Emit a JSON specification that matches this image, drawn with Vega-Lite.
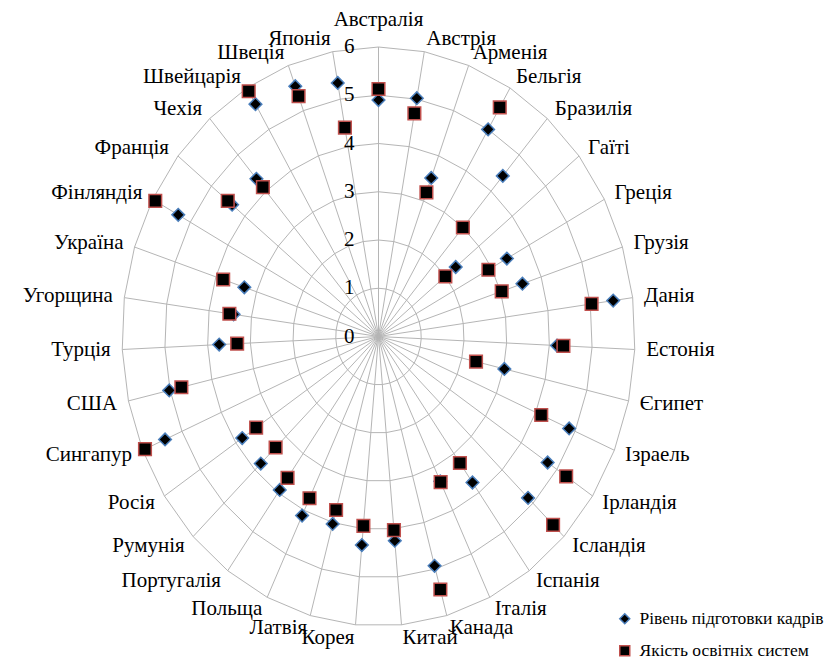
{
  "$schema": "https://vega.github.io/schema/vega-lite/v6.json",
  "width": 513,
  "height": 579,
  "autosize": {"type": "none"},
  "padding": {"left": 122, "top": 47, "right": 193, "bottom": 35},
  "background": "white",
  "config": {
    "view": {"stroke": null},
    "font": "Liberation Serif",
    "legend": {
      "labelFont": "Liberation Serif",
      "labelFontSize": 17.5,
      "labelColor": "black",
      "labelLimit": 400,
      "symbolSize": 100,
      "symbolStrokeWidth": 1.5,
      "symbolFillColor": "black",
      "rowPadding": 13,
      "padding": 0,
      "labelOffset": 6
    }
  },
  "datasets": {
    "countries": [
      {"country": "Австралія", "idx": 0},
      {"country": "Австрія", "idx": 1},
      {"country": "Арменія", "idx": 2},
      {"country": "Бельгія", "idx": 3},
      {"country": "Бразилія", "idx": 4},
      {"country": "Гаїті", "idx": 5},
      {"country": "Греція", "idx": 6},
      {"country": "Грузія", "idx": 7},
      {"country": "Данія", "idx": 8},
      {"country": "Естонія", "idx": 9},
      {"country": "Єгипет", "idx": 10},
      {"country": "Ізраель", "idx": 11},
      {"country": "Ірландія", "idx": 12},
      {"country": "Ісландія", "idx": 13},
      {"country": "Іспанія", "idx": 14},
      {"country": "Італія", "idx": 15},
      {"country": "Канада", "idx": 16},
      {"country": "Китай", "idx": 17},
      {"country": "Корея", "idx": 18},
      {"country": "Латвія", "idx": 19},
      {"country": "Польща", "idx": 20},
      {"country": "Португалія", "idx": 21},
      {"country": "Румунія", "idx": 22},
      {"country": "Росія", "idx": 23},
      {"country": "Сингапур", "idx": 24},
      {"country": "США", "idx": 25},
      {"country": "Турція", "idx": 26},
      {"country": "Угорщина", "idx": 27},
      {"country": "Україна", "idx": 28},
      {"country": "Фінляндія", "idx": 29},
      {"country": "Франція", "idx": 30},
      {"country": "Чехія", "idx": 31},
      {"country": "Швейцарія", "idx": 32},
      {"country": "Швеція", "idx": 33},
      {"country": "Японія", "idx": 34}
    ],
    "scores": [
      {"country": "Австралія", "series": "Рівень підготовки кадрів", "value": 4.9},
      {"country": "Австрія", "series": "Рівень підготовки кадрів", "value": 5.02},
      {"country": "Арменія", "series": "Рівень підготовки кадрів", "value": 3.51},
      {"country": "Бельгія", "series": "Рівень підготовки кадрів", "value": 5.0},
      {"country": "Бразилія", "series": "Рівень підготовки кадрів", "value": 4.42},
      {"country": "Гаїті", "series": "Рівень підготовки кадрів", "value": 2.31},
      {"country": "Греція", "series": "Рівень підготовки кадрів", "value": 3.41},
      {"country": "Грузія", "series": "Рівень підготовки кадрів", "value": 3.54},
      {"country": "Данія", "series": "Рівень підготовки кадрів", "value": 5.54},
      {"country": "Естонія", "series": "Рівень підготовки кадрів", "value": 4.18},
      {"country": "Єгипет", "series": "Рівень підготовки кадрів", "value": 3.02},
      {"country": "Ізраель", "series": "Рівень підготовки кадрів", "value": 4.85},
      {"country": "Ірландія", "series": "Рівень підготовки кадрів", "value": 4.74},
      {"country": "Ісландія", "series": "Рівень підготовки кадрів", "value": 4.84},
      {"country": "Іспанія", "series": "Рівень підготовки кадрів", "value": 3.74},
      {"country": "Італія", "series": "Рівень підготовки кадрів", "value": 3.33},
      {"country": "Канада", "series": "Рівень підготовки кадрів", "value": 4.93},
      {"country": "Китай", "series": "Рівень підготовки кадрів", "value": 4.25},
      {"country": "Корея", "series": "Рівень підготовки кадрів", "value": 4.34},
      {"country": "Латвія", "series": "Рівень підготовки кадрів", "value": 4.03},
      {"country": "Польща", "series": "Рівень підготовки кадрів", "value": 4.12},
      {"country": "Португалія", "series": "Рівень підготовки кадрів", "value": 3.93},
      {"country": "Румунія", "series": "Рівень підготовки кадрів", "value": 3.81},
      {"country": "Росія", "series": "Рівень підготовки кадрів", "value": 3.82},
      {"country": "Сингапур", "series": "Рівень підготовки кадрів", "value": 5.43},
      {"country": "США", "series": "Рівень підготовки кадрів", "value": 5.02},
      {"country": "Турція", "series": "Рівень підготовки кадрів", "value": 3.73},
      {"country": "Угорщина", "series": "Рівень підготовки кадрів", "value": 3.42},
      {"country": "Україна", "series": "Рівень підготовки кадрів", "value": 3.3},
      {"country": "Фінляндія", "series": "Рівень підготовки кадрів", "value": 5.32},
      {"country": "Франція", "series": "Рівень підготовки кадрів", "value": 4.38},
      {"country": "Чехія", "series": "Рівень підготовки кадрів", "value": 4.34},
      {"country": "Швейцарія", "series": "Рівень підготовки кадрів", "value": 5.61},
      {"country": "Швеція", "series": "Рівень підготовки кадрів", "value": 5.54},
      {"country": "Японія", "series": "Рівень підготовки кадрів", "value": 5.34},
      {"country": "Австралія", "series": "Якість освітніх систем", "value": 5.13},
      {"country": "Австрія", "series": "Якість освітніх систем", "value": 4.7},
      {"country": "Арменія", "series": "Якість освітніх систем", "value": 3.19},
      {"country": "Бельгія", "series": "Якість освітніх систем", "value": 5.53},
      {"country": "Бразилія", "series": "Якість освітніх систем", "value": 3.0},
      {"country": "Гаїті", "series": "Якість освітніх систем", "value": 2.0},
      {"country": "Греція", "series": "Якість освітніх систем", "value": 2.92},
      {"country": "Грузія", "series": "Якість освітніх систем", "value": 3.03},
      {"country": "Данія", "series": "Якість освітніх систем", "value": 5.03},
      {"country": "Естонія", "series": "Якість освітніх систем", "value": 4.33},
      {"country": "Єгипет", "series": "Якість освітніх систем", "value": 2.34},
      {"country": "Ізраель", "series": "Якість освітніх систем", "value": 4.14},
      {"country": "Ірландія", "series": "Якість освітніх систем", "value": 5.26},
      {"country": "Ісландія", "series": "Якість освітніх систем", "value": 5.65},
      {"country": "Іспанія", "series": "Якість освітніх систем", "value": 3.24},
      {"country": "Італія", "series": "Якість освітніх систем", "value": 3.35},
      {"country": "Канада", "series": "Якість освітніх систем", "value": 5.44},
      {"country": "Китай", "series": "Якість освітніх систем", "value": 4.03},
      {"country": "Корея", "series": "Якість освітніх систем", "value": 3.94},
      {"country": "Латвія", "series": "Якість освітніх систем", "value": 3.73},
      {"country": "Польща", "series": "Якість освітніх систем", "value": 3.72},
      {"country": "Португалія", "series": "Якість освітніх систем", "value": 3.62},
      {"country": "Румунія", "series": "Якість освітніх систем", "value": 3.33},
      {"country": "Росія", "series": "Якість освітніх систем", "value": 3.43},
      {"country": "Сингапур", "series": "Якість освітніх систем", "value": 5.94},
      {"country": "США", "series": "Якість освітніх систем", "value": 4.73},
      {"country": "Турція", "series": "Якість освітніх систем", "value": 3.31},
      {"country": "Угорщина", "series": "Якість освітніх систем", "value": 3.52},
      {"country": "Україна", "series": "Якість освітніх систем", "value": 3.82},
      {"country": "Фінляндія", "series": "Якість освітніх систем", "value": 5.93},
      {"country": "Франція", "series": "Якість освітніх систем", "value": 4.51},
      {"country": "Чехія", "series": "Якість освітніх систем", "value": 4.11},
      {"country": "Швейцарія", "series": "Якість освітніх систем", "value": 5.92},
      {"country": "Швеція", "series": "Якість освітніх систем", "value": 5.32},
      {"country": "Японія", "series": "Якість освітніх систем", "value": 4.4}
    ],
    "ticks": [
      {"t": 0}, {"t": 1}, {"t": 2}, {"t": 3}, {"t": 4}, {"t": 5}, {"t": 6}
    ]
  },
  "layer": [
    {
      "data": {"name": "countries"},
      "transform": [
        {"calculate": "datum.idx * 2 * PI / 35", "as": "a"},
        {"calculate": "[1, 2, 3, 4, 5, 6]", "as": "ring"},
        {"flatten": ["ring"]},
        {"calculate": "datum.ring * sin(datum.a)", "as": "gx"},
        {"calculate": "datum.ring * cos(datum.a)", "as": "gy"}
      ],
      "mark": {"type": "line", "interpolate": "linear-closed", "stroke": "#b5b5b5", "strokeWidth": 1},
      "encoding": {
        "x": {"field": "gx", "type": "quantitative", "scale": {"domain": [-6, 6], "nice": false, "zero": false}, "axis": null},
        "y": {"field": "gy", "type": "quantitative", "scale": {"domain": [-6, 6], "nice": false, "zero": false}, "axis": null},
        "detail": {"field": "ring", "type": "nominal"},
        "order": {"field": "idx", "type": "quantitative"}
      }
    },
    {
      "data": {"name": "countries"},
      "transform": [
        {"calculate": "datum.idx * 2 * PI / 35", "as": "a"},
        {"calculate": "6 * sin(datum.a)", "as": "ex"},
        {"calculate": "6 * cos(datum.a)", "as": "ey"}
      ],
      "mark": {"type": "rule", "stroke": "#b5b5b5", "strokeWidth": 1},
      "encoding": {
        "x": {"field": "ex", "type": "quantitative", "scale": {"domain": [-6, 6], "nice": false, "zero": false}, "axis": null},
        "y": {"field": "ey", "type": "quantitative", "scale": {"domain": [-6, 6], "nice": false, "zero": false}, "axis": null},
        "x2": {"datum": 0},
        "y2": {"datum": 0}
      }
    },
    {
      "data": {"name": "ticks"},
      "mark": {"type": "text", "align": "right", "baseline": "middle", "dx": -24, "fontSize": 21, "font": "Liberation Serif", "color": "black"},
      "encoding": {
        "x": {"datum": 0, "type": "quantitative", "scale": {"domain": [-6, 6], "nice": false, "zero": false}, "axis": null},
        "y": {"field": "t", "type": "quantitative", "scale": {"domain": [-6, 6], "nice": false, "zero": false}, "axis": null},
        "text": {"field": "t", "type": "quantitative"}
      }
    },
    {
      "data": {"name": "countries"},
      "transform": [
        {"calculate": "datum.idx * 2 * PI / 35", "as": "a"},
        {"calculate": "6.27 * sin(datum.a)", "as": "lx"},
        {"calculate": "6.27 * cos(datum.a)", "as": "ly"},
        {"filter": "sin(datum.a) > 0.05"}
      ],
      "mark": {"type": "text", "align": "left", "baseline": "middle", "fontSize": 21, "font": "Liberation Serif", "color": "black"},
      "encoding": {
        "x": {"field": "lx", "type": "quantitative", "scale": {"domain": [-6, 6], "nice": false, "zero": false}, "axis": null},
        "y": {"field": "ly", "type": "quantitative", "scale": {"domain": [-6, 6], "nice": false, "zero": false}, "axis": null},
        "text": {"field": "country", "type": "nominal"}
      }
    },
    {
      "data": {"name": "countries"},
      "transform": [
        {"calculate": "datum.idx * 2 * PI / 35", "as": "a"},
        {"calculate": "6.27 * sin(datum.a)", "as": "lx"},
        {"calculate": "6.27 * cos(datum.a)", "as": "ly"},
        {"filter": "sin(datum.a) < -0.05"}
      ],
      "mark": {"type": "text", "align": "right", "baseline": "middle", "fontSize": 21, "font": "Liberation Serif", "color": "black"},
      "encoding": {
        "x": {"field": "lx", "type": "quantitative", "scale": {"domain": [-6, 6], "nice": false, "zero": false}, "axis": null},
        "y": {"field": "ly", "type": "quantitative", "scale": {"domain": [-6, 6], "nice": false, "zero": false}, "axis": null},
        "text": {"field": "country", "type": "nominal"}
      }
    },
    {
      "data": {"name": "countries"},
      "transform": [
        {"calculate": "datum.idx * 2 * PI / 35", "as": "a"},
        {"calculate": "6.27 * sin(datum.a)", "as": "lx"},
        {"calculate": "6.27 * cos(datum.a)", "as": "ly"},
        {"filter": "abs(sin(datum.a)) <= 0.05"}
      ],
      "mark": {"type": "text", "align": "center", "baseline": "bottom", "dy": -4, "fontSize": 21, "font": "Liberation Serif", "color": "black"},
      "encoding": {
        "x": {"field": "lx", "type": "quantitative", "scale": {"domain": [-6, 6], "nice": false, "zero": false}, "axis": null},
        "y": {"field": "ly", "type": "quantitative", "scale": {"domain": [-6, 6], "nice": false, "zero": false}, "axis": null},
        "text": {"field": "country", "type": "nominal"}
      }
    },
    {
      "data": {"name": "scores"},
      "transform": [
        {"lookup": "country", "from": {"data": {"name": "countries"}, "key": "country", "fields": ["idx"]}},
        {"calculate": "datum.idx * 2 * PI / 35", "as": "a"},
        {"calculate": "datum.value * sin(datum.a)", "as": "px"},
        {"calculate": "datum.value * cos(datum.a)", "as": "py"}
      ],
      "mark": {"type": "point", "filled": true, "fill": "black", "opacity": 1, "size": 160, "strokeWidth": 1.5},
      "encoding": {
        "x": {"field": "px", "type": "quantitative", "scale": {"domain": [-6, 6], "nice": false, "zero": false}, "axis": null},
        "y": {"field": "py", "type": "quantitative", "scale": {"domain": [-6, 6], "nice": false, "zero": false}, "axis": null},
        "shape": {
          "field": "series", "type": "nominal",
          "scale": {"domain": ["Рівень підготовки кадрів", "Якість освітніх систем"], "range": ["diamond", "square"]},
          "legend": {"title": null, "orient": "none", "legendX": 494, "legendY": 563, "labelFont": "Liberation Serif", "labelLimit": 400}
        },
        "stroke": {
          "field": "series", "type": "nominal",
          "scale": {"domain": ["Рівень підготовки кадрів", "Якість освітніх систем"], "range": ["#4a7ebb", "#c0504d"]},
          "legend": {"title": null, "orient": "none", "legendX": 494, "legendY": 563, "labelFont": "Liberation Serif", "labelLimit": 400}
        }
      }
    }
  ]
}
